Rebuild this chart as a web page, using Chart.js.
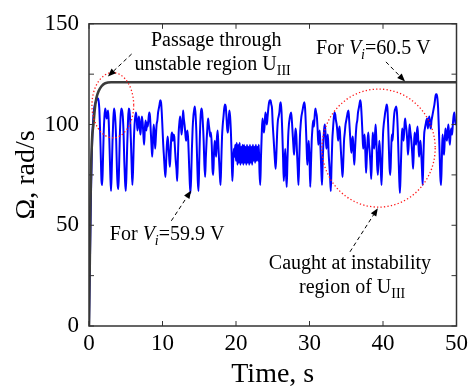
<!DOCTYPE html>
<html lang="en">
<head>
<meta charset="UTF-8" />
<title>Omega vs time</title>
<script src="https://cdn.jsdelivr.net/npm/chart.js"></script>
<style>
    body { margin: 0; background: #ffffff; }
    .wrap { width: 472px; height: 391px; }
</style>
</head>
<body>
<div class="wrap"><canvas id="chart" width="472" height="391"></canvas></div>
<script>
    // blue trace, V_i = 59.9 V, sampled every 0.1 s from t = 0 to 50 s (one row per second)
    const sampleStep = 0.1;
    const omegaLow = [
        0, 25, 50, 72, 88, 98, 104, 108, 110, 111,
        112, 113, 113, 112, 108, 98, 85, 72, 70, 82,
        96, 104, 108, 106, 103, 105, 107, 100, 88, 75,
        67, 78, 92, 102, 108, 106, 101, 92, 78, 70,
        68, 80, 95, 104, 108, 107, 104, 96, 82, 72,
        67, 76, 90, 101, 108, 107, 102, 92, 80, 70,
        78, 92, 100, 104, 106, 102, 97, 101, 104, 99,
        95, 100, 104, 101, 95, 90, 98, 102, 97, 101,
        99, 103, 106, 104, 97, 90, 84, 92, 100, 96,
        88, 94, 100, 102, 106, 108, 110, 112, 111, 106,
        98, 90, 84, 78, 74, 82, 90, 94, 90, 84,
        79, 86, 94, 96, 92, 95, 94, 88, 82, 78,
        72, 84, 96, 101, 104, 100, 95, 99, 107, 103,
        100, 96, 92, 95, 97, 92, 82, 72, 66, 74,
        88, 98, 104, 107, 109, 105, 97, 84, 72, 67,
        82, 96, 105, 108, 106, 100, 92, 80, 74, 84,
        92, 98, 103, 100, 97, 94, 96, 90, 78, 75,
        85, 92, 88, 84, 93, 97, 90, 82, 75, 70,
        82, 94, 100, 104, 108, 110, 109, 104, 98, 96,
        102, 107, 104, 97, 86, 72, 80, 88, 84, 90,
        82, 91, 80, 90, 81, 91, 80, 89, 81, 90,
        80, 90, 81, 89, 80, 90, 81, 89, 80, 90,
        81, 89, 80, 90, 82, 89, 81, 90, 82, 89,
        82, 90, 76, 70, 84, 95, 103, 100, 96, 100,
        106, 104, 100, 104, 108, 111, 112, 112, 110, 108,
        100, 94, 88, 82, 78, 86, 96, 102, 104, 106,
        110, 111, 106, 96, 84, 72, 80, 88, 76, 69,
        82, 94, 100, 103, 105, 106, 102, 96, 90, 85,
        92, 98, 95, 86, 78, 70, 82, 94, 100, 104,
        106, 108, 110, 111, 108, 100, 90, 80, 86, 92,
        84, 69, 80, 92, 98, 102, 99, 104, 108, 106,
        104, 98, 90, 94, 97, 88, 78, 70, 82, 92,
        98, 100, 94, 88, 92, 95, 86, 80, 74, 67,
        80, 92, 98, 103, 106, 105, 102, 100, 96, 92,
        97, 99, 92, 85, 79, 74, 82, 92, 96, 100,
        102, 104, 106, 107, 102, 96, 90, 86, 92, 94,
        86, 80, 88, 95, 100, 102, 106, 108, 110, 112,
        110, 104, 96, 88, 92, 95, 86, 76, 84, 92,
        96, 90, 86, 80, 73, 84, 96, 92, 88, 94,
        100, 92, 80, 75, 84, 92, 86, 78, 70, 82,
        95, 100, 103, 106, 108, 110, 108, 100, 88, 78,
        75, 86, 95, 92, 98, 104, 107, 108, 109, 106,
        98, 86, 74, 66, 76, 88, 98, 96, 92, 98,
        103, 100, 97, 92, 85, 90, 100, 97, 94, 90,
        84, 78, 88, 96, 92, 90, 96, 99, 92, 84,
        88, 92, 86, 78, 70, 84, 95, 98, 100, 102,
        103, 98, 102, 104, 100, 98, 102, 104, 106, 108,
        110, 113, 115, 115, 113, 108, 98, 86, 74, 70,
        82, 95, 90, 85, 92, 98, 94, 92, 97, 100,
        94, 90, 96, 98, 95, 100, 104, 106, 102, 100,
        100
    ];

    // black trace, V_i = 60.5 V
    const riseTime = [0, 0.1, 0.2, 0.3, 0.45, 0.6, 0.8, 1.0, 1.3, 1.7, 2.2, 3, 50];
    const omegaHigh = [0, 30, 60, 80, 95, 100, 108, 113, 116.5, 119, 120.5, 121, 121];

    const yMinorTicks = [25, 75, 125];
    const xTickValues = [0, 10, 20, 30, 40, 50];
    const yTickValues = [0, 50, 100, 150];

    const lowPoints = omegaLow.map((v, i) => ({ x: i * sampleStep, y: v }));
    const highPoints = omegaHigh.map((v, i) => ({ x: riseTime[i], y: v }));

    const serif = '"Liberation Serif", "Times New Roman", serif';
    Chart.defaults.font.family = serif;

    // draw a text run made of plain / italic / subscript pieces
    function drawRich(ctx, parts, x, y, align) {
        const fontOf = p => (p[1].indexOf('i') === 0 ? 'italic ' : '') +
            (p[1].includes('sub') ? 14 : 20) + 'px ' + serif;
        let w = 0;
        parts.forEach(p => { ctx.font = fontOf(p); w += ctx.measureText(p[0]).width; });
        let cx = align === 'center' ? x - w / 2 : x;
        ctx.textAlign = 'left';
        ctx.textBaseline = 'alphabetic';
        ctx.fillStyle = '#000';
        parts.forEach(p => {
            ctx.font = fontOf(p);
            ctx.fillText(p[0], cx, y + (p[1].includes('sub') ? 5 : 0));
            cx += ctx.measureText(p[0]).width;
        });
    }

    function arrow(ctx, x1, y1, x2, y2) {
        const ang = Math.atan2(y2 - y1, x2 - x1);
        const len = 8, half = 3.2;
        const bx = x2 - len * Math.cos(ang), by = y2 - len * Math.sin(ang);
        ctx.save();
        ctx.strokeStyle = '#000';
        ctx.lineWidth = 1;
        ctx.setLineDash([4, 3]);
        ctx.beginPath();
        ctx.moveTo(x1, y1);
        ctx.lineTo(bx, by);
        ctx.stroke();
        ctx.setLineDash([]);
        ctx.fillStyle = '#000';
        ctx.beginPath();
        ctx.moveTo(x2, y2);
        ctx.lineTo(bx + half * Math.sin(ang), by - half * Math.cos(ang));
        ctx.lineTo(bx - half * Math.sin(ang), by + half * Math.cos(ang));
        ctx.closePath();
        ctx.fill();
        ctx.restore();
    }

    const framePlugin = {
        id: 'frame',
        afterDatasetsDraw(chart) {
            const { ctx, chartArea: a, scales } = chart;
            const xs = scales.x, ys = scales.y;
            const px = v => xs.getPixelForValue(v);
            const py = v => ys.getPixelForValue(v);
            ctx.save();

            // red dotted ellipses
            ctx.strokeStyle = '#ff1a1a';
            ctx.lineWidth = 1.3;
            ctx.setLineDash([1.3, 2.2]);
            [[3.24, 109.6, 2.84, 16.2], [39.4, 88.3, 7.7, 29.3]].forEach(e => {
                const cx = px(e[0]), cy = py(e[1]);
                const rx = px(e[0] + e[2]) - cx, ry = cy - py(e[1] + e[3]);
                ctx.beginPath();
                ctx.ellipse(cx, cy, rx, ry, 0, 0, Math.PI * 2);
                ctx.stroke();
            });
            ctx.setLineDash([]);

            // frame and inward ticks
            ctx.strokeStyle = '#333';
            ctx.lineWidth = 1.5;
            ctx.strokeRect(a.left, a.top, a.right - a.left, a.bottom - a.top);
            ctx.lineWidth = 1;
            const tl = 5;
            ctx.beginPath();
            xTickValues.forEach(v => {
                const x = px(v);
                ctx.moveTo(x, a.bottom); ctx.lineTo(x, a.bottom - tl);
                ctx.moveTo(x, a.top); ctx.lineTo(x, a.top + tl);
            });
            yTickValues.concat(yMinorTicks).forEach(v => {
                const y = py(v);
                ctx.moveTo(a.left, y); ctx.lineTo(a.left + tl, y);
                ctx.moveTo(a.right, y); ctx.lineTo(a.right - tl, y);
            });
            ctx.stroke();

            // arrows
            arrow(ctx, px(5.8), py(135), px(2.57), py(123.9));
            arrow(ctx, px(40.4), py(131.1), px(43.0), py(121.4));
            arrow(ctx, px(11.2), py(52.2), px(13.9), py(67.2));
            arrow(ctx, px(35.5), py(36.8), px(39.3), py(58.5));

            // labels
            drawRich(ctx, [['Passage through', '']], px(17.3), py(138.8), 'center');
            drawRich(ctx, [['unstable region U', ''], ['III', 'sub']], px(6.2), py(127.2), 'left');
            drawRich(ctx, [['For ', ''], ['V', 'i'], ['i', 'isub'], ['=60.5 V', '']], px(30.9), py(135), 'left');
            drawRich(ctx, [['For ', ''], ['V', 'i'], ['i', 'isub'], ['=59.9 V', '']], px(2.84), py(42.6), 'left');
            drawRich(ctx, [['Caught at instability', '']], px(35.5), py(28.5), 'center');
            drawRich(ctx, [['region of U', ''], ['III', 'sub']], px(35.8), py(16.4), 'center');
            ctx.restore();
        }
    };

    new Chart(document.getElementById('chart').getContext('2d'), {
        type: 'line',
        data: {
            datasets: [
                {
                    label: 'V_i = 60.5 V',
                    data: highPoints,
                    borderColor: '#3c3c3c',
                    borderWidth: 2.6,
                    pointRadius: 0,
                    tension: 0.3
                },
                {
                    label: 'V_i = 59.9 V',
                    data: lowPoints,
                    borderColor: '#0000ff',
                    borderWidth: 2,
                    pointRadius: 0,
                    cubicInterpolationMode: 'monotone'
                }
            ]
        },
        options: {
            responsive: false,
            animation: false,
            devicePixelRatio: 1,
            layout: { padding: { top: 16, right: 13, left: 0, bottom: 0 } },
            plugins: { legend: { display: false }, tooltip: { enabled: false } },
            scales: {
                x: {
                    type: 'linear',
                    min: 0,
                    max: 50,
                    afterFit: s => { s.height = 65; },
                    afterBuildTicks: s => { s.ticks = xTickValues.map(v => ({ value: v })); },
                    ticks: { font: { family: serif, size: 23 }, color: '#000', padding: 4, maxRotation: 0 },
                    grid: { display: false, drawTicks: false },
                    border: { display: false },
                    title: { display: true, text: 'Time, s', color: '#000', font: { family: serif, size: 28 }, padding: { top: 0, bottom: 0 } }
                },
                y: {
                    min: 0,
                    max: 150,
                    afterFit: s => { s.width = 89; },
                    afterBuildTicks: s => { s.ticks = yTickValues.map(v => ({ value: v })); },
                    ticks: { font: { family: serif, size: 23 }, color: '#000', padding: 10 },
                    grid: { display: false, drawTicks: false },
                    border: { display: false },
                    title: { display: true, text: 'Ω, rad/s', color: '#000', font: { family: serif, size: 28 }, padding: { top: 10, bottom: 0 } }
                }
            }
        },
        plugins: [framePlugin]
    });
</script>
</body>
</html>
